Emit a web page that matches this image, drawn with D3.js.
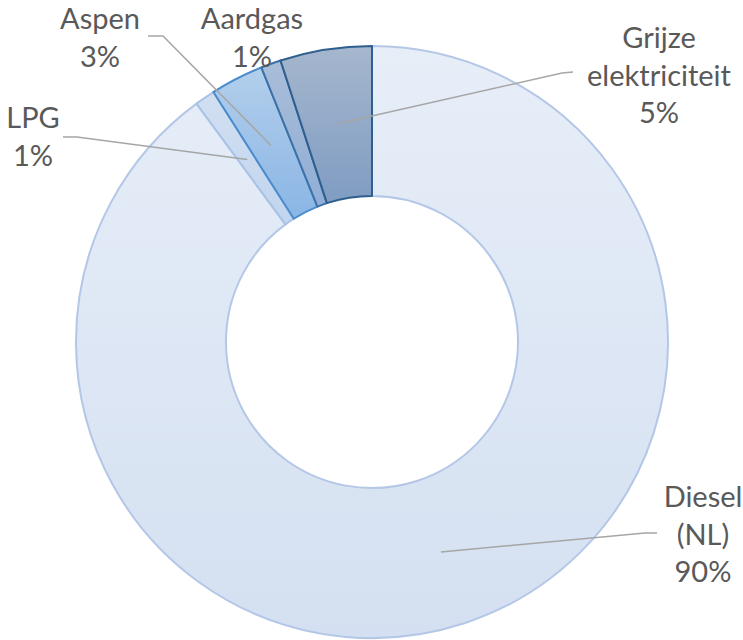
<!DOCTYPE html>
<html>
<head>
<meta charset="utf-8">
<script src="https://cdn.jsdelivr.net/npm/d3@7"></script>
<style>
  body { margin: 0; background: #fff; }
  text { font-family: Lato, "Open Sans", sans-serif; fill: #595959; }
</style>
</head>
<body>
<script>
const width = 743;
const height = 640;

// energy sources, in drawing order (clockwise from 12 o'clock)
const categories = ["Diesel (NL)", "LPG", "Aspen", "Aardgas", "Grijze elektriciteit"];
const values = [89.9, 1.1, 2.9, 1.1, 5.0];

// label lines as Excel wraps them
const labelLines = [["Diesel", "(NL)"], ["LPG"], ["Aspen"], ["Aardgas"], ["Grijze", "elektriciteit"]];

// fill gradient (top, bottom) and border per slice
const fillTop = ["#e7eef8", "#d2dff1", "#b3cfec", "#a9bdd8", "#a6b7ce"];
const fillBottom = ["#d4e0f1", "#c1d5ef", "#8ab5e5", "#90aed6", "#7f9cc2"];
const borders = ["#b4c7e7", "#a9c3e6", "#4a8bcc", "#3d72a8", "#2f5f8f"];

// label anchor (centre x, first baseline)
const labelPos = [[703, 507], [33, 128], [100, 29], [252, 29], [659, 48]];
// leader line: end next to the label, then the elbow
const leaderEnd = [[657, 533], [63, 137], [148, 36], null, [573, 72]];
const leaderElbow = [[645, 533], [77, 137], [163, 36], null, [562, 73]];

var svg = d3.select("body")
  .append("svg")
  .attr("width", width)
  .attr("height", height);

var cx = 372, cy = 342;
var outerR = 296, innerR = 146;

var pie = d3.pie().sort(null);
var arc = d3.arc().innerRadius(innerR).outerRadius(outerR);
var total = d3.sum(values);
var pct = d3.format(".0%");

var defs = svg.append("defs");
values.forEach(function(v, i) {
    var grad = defs.append("linearGradient")
      .attr("id", "grad" + i)
      .attr("x1", 0).attr("y1", 0)
      .attr("x2", 0).attr("y2", 1);
    grad.append("stop").attr("offset", "0%").attr("stop-color", fillTop[i]);
    grad.append("stop").attr("offset", "100%").attr("stop-color", fillBottom[i]);
});

var arcs = pie(values);

var g = svg.append("g").attr("transform", "translate(" + cx + "," + cy + ")");

g.selectAll("path.slice")
  .data(arcs)
  .enter()
  .append("path")
  .attr("class", "slice")
  .attr("d", arc)
  .attr("fill", (d, i) => "url(#grad" + i + ")")
  .attr("stroke", (d, i) => borders[i])
  .attr("stroke-width", 2)
  .attr("stroke-linejoin", "round");

// leader lines from the middle of each slice to the label
arcs.forEach(function(d, i) {
    if (!leaderEnd[i]) return;
    var c = arc.centroid(d);
    var start = [c[0] + cx, c[1] + cy];
    svg.append("polyline")
      .attr("points", [start, leaderElbow[i], leaderEnd[i]].map(p => p.join(",")).join(" "))
      .attr("fill", "none")
      .attr("stroke", "#a6a6a6")
      .attr("stroke-width", 1.5);
});

// labels
arcs.forEach(function(d, i) {
    var lines = labelLines[i].concat([pct(values[i] / total)]);
    var t = svg.append("text")
      .attr("text-anchor", "middle")
      .attr("font-size", 29);
    lines.forEach(function(s, k) {
        t.append("tspan")
          .attr("x", labelPos[i][0])
          .attr("y", labelPos[i][1] + k * 37.5)
          .text(s);
    });
});
</script>
</body>
</html>
